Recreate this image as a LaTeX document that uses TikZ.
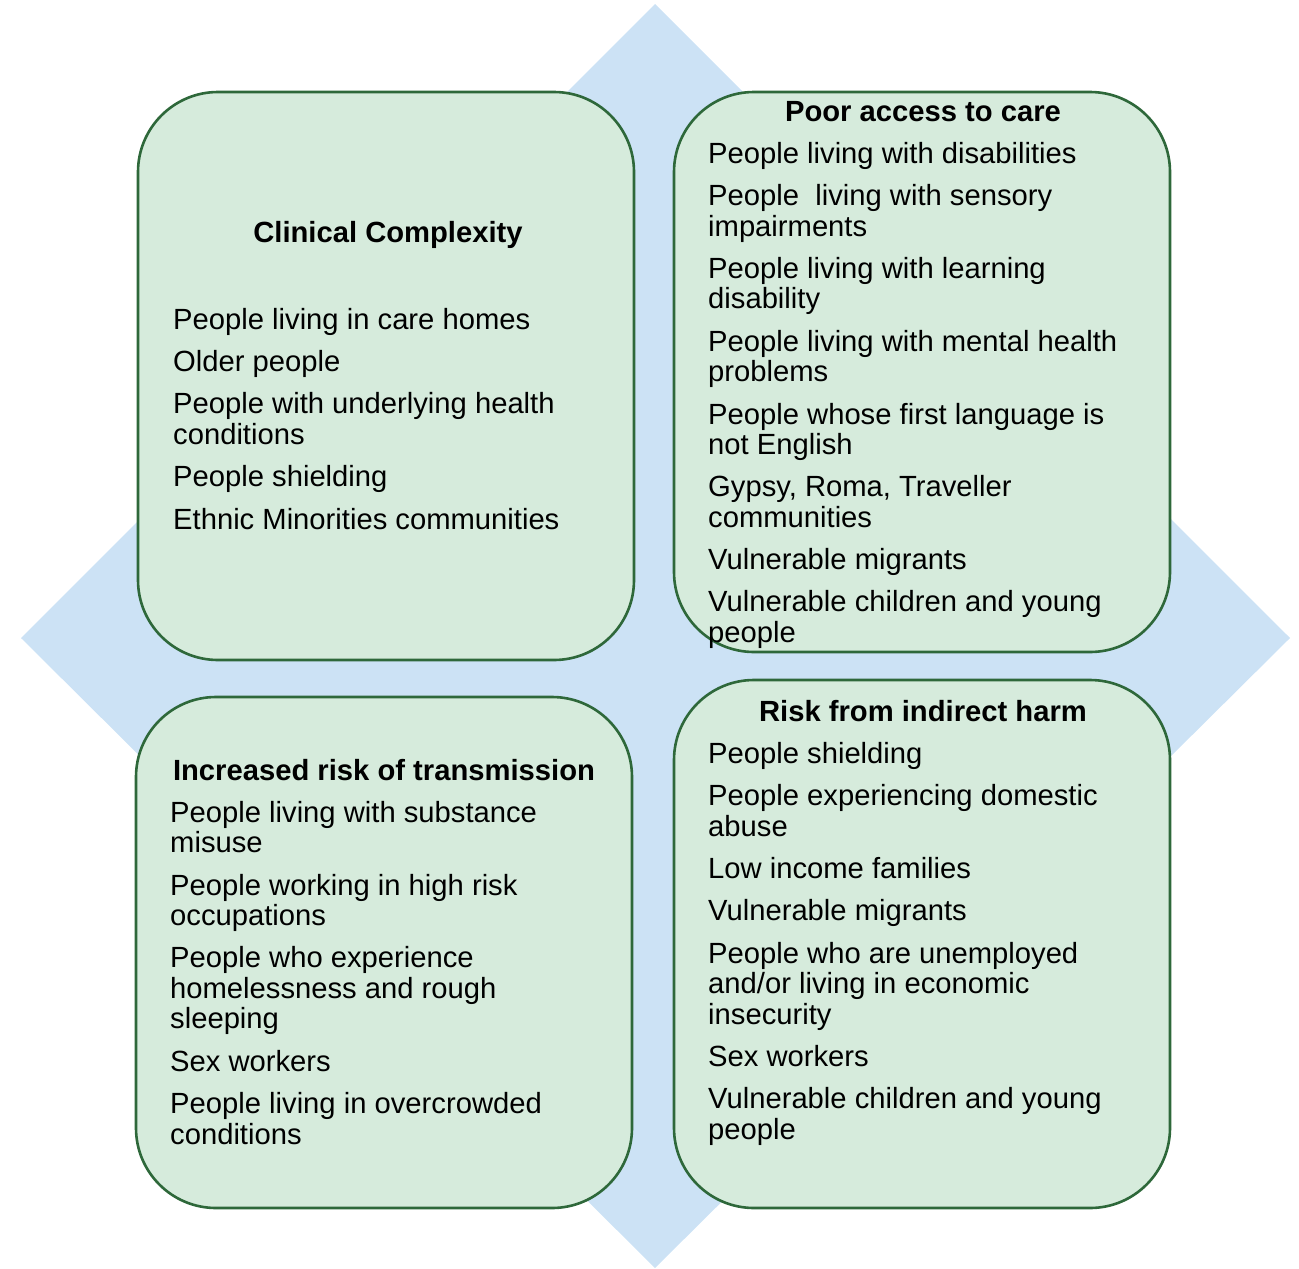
\documentclass[tikz,border=0pt]{standalone}
\usepackage{fontspec}
\setmainfont{Liberation Sans}
\usepackage{tikz}
\usetikzlibrary{positioning}
\definecolor{PaleBlue}{RGB}{204,226,245}
\definecolor{PaleGreen}{RGB}{214,235,220}
\definecolor{LeafGreen}{RGB}{46,104,58}

\begin{document}
\begin{tikzpicture}[
    x=1pt, y=-1pt,
    groupbox/.style={draw=LeafGreen, line width=2.6pt, fill=PaleGreen, rounded corners=80pt,
        minimum width=496pt, inner sep=0pt},
    heading/.style={anchor=base, inner sep=0pt, font=\fontsize{29.2}{30.5}\selectfont\bfseries},
    itemlist/.style={anchor=north west, inner sep=0pt, align=left, font=\fontsize{29.2}{30.5}\selectfont}
]
    \useasboundingbox (0,0) rectangle (1299,1269);
    % background diamond
    \fill[PaleBlue] (655,4) -- (1290,638) -- (655,1268) -- (21,638) -- cycle;

    % the four groups
    \node[groupbox, minimum height=568pt] (clinical) at (386,376) {};
    \node[groupbox, minimum height=560pt] (access) at (922,372) {};
    \node[groupbox, minimum height=511pt] (transmission) at (384,952.5) {};
    \node[groupbox, minimum height=528pt] (harm) at (922,944) {};

    % headings
    \node[heading] (clinicalhead) at (388,242) {Clinical Complexity};
    \node[heading] (accesshead) at (923,121) {Poor access to care};
    \node[heading] (transhead) at (384,780) {Increased risk of transmission};
    \node[heading] (harmhead) at (923,721) {Risk from indirect harm};

    % lists of groups
    \node[itemlist] (clinicallist) at (173,308) {People living in care homes\\[11.8pt]
        Older people\\[11.8pt]
        People with underlying health\\conditions\\[11.8pt]
        People shielding\\[11.8pt]
        Ethnic Minorities communities};
    \node[itemlist] (accesslist) at (708,142) {People living with disabilities\\[11.8pt]
        People\ \ living with sensory\\impairments\\[11.8pt]
        People living with learning\\disability\\[11.8pt]
        People living with mental health\\problems\\[11.8pt]
        People whose first language is\\not English\\[11.8pt]
        Gypsy, Roma, Traveller\\communities\\[11.8pt]
        Vulnerable migrants\\[11.8pt]
        Vulnerable children and young\\people};
    \node[itemlist] (translist) at (170,801) {People living with substance\\misuse\\[11.8pt]
        People working in high risk\\occupations\\[11.8pt]
        People who experience\\homelessness and rough\\sleeping\\[11.8pt]
        Sex workers\\[11.8pt]
        People living in overcrowded\\conditions};
    \node[itemlist] (harmlist) at (708,742) {People shielding\\[11.8pt]
        People experiencing domestic\\abuse\\[11.8pt]
        Low income families\\[11.8pt]
        Vulnerable migrants\\[11.8pt]
        People who are unemployed\\and/or living in economic\\insecurity\\[11.8pt]
        Sex workers\\[11.8pt]
        Vulnerable children and young\\people};
\end{tikzpicture}
\end{document}
